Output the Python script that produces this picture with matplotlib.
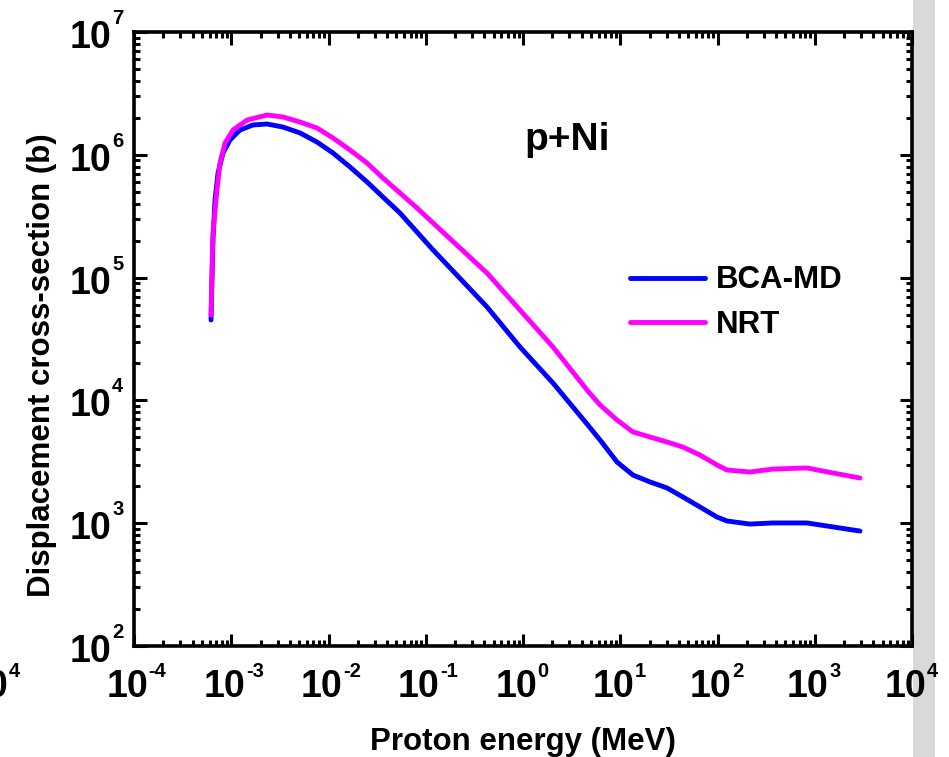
import numpy as np
import matplotlib
matplotlib.use("Agg")
import matplotlib.pyplot as plt
from matplotlib.ticker import LogLocator, NullFormatter
from matplotlib.patches import Rectangle

# values, in log10 units
log_e_bca = [-3.208, -3.198, -3.188, -3.167, -3.136, -3.085, -3.013, -2.910, -2.776, -2.632,
             -2.468, -2.293, -2.118, -1.954, -1.779, -1.604, -1.440, -1.265, -1.090, -0.925,
             -0.720, -0.370, -0.031, 0.308, 0.658, 0.792, 0.967, 1.131, 1.306, 1.481,
             1.645, 1.820, 1.995, 2.098, 2.334, 2.571, 2.920, 3.126, 3.465]
log_s_bca = [4.655, 4.980, 5.306, 5.632, 5.852, 6.015, 6.121, 6.202, 6.243, 6.251,
             6.226, 6.178, 6.104, 6.015, 5.901, 5.779, 5.656, 5.526, 5.371, 5.225,
             5.054, 4.761, 4.435, 4.142, 3.808, 3.678, 3.498, 3.392, 3.336, 3.287,
             3.213, 3.132, 3.050, 3.018, 2.993, 3.002, 3.002, 2.977, 2.936]

log_e_nrt = [-3.208, -3.198, -3.188, -3.147, -3.116, -3.064, -2.982, -2.838, -2.632, -2.468,
             -2.293, -2.118, -1.954, -1.779, -1.604, -1.440, -1.265, -1.090, -0.925, -0.720,
             -0.370, -0.031, 0.308, 0.658, 0.792, 0.967, 1.131, 1.306, 1.481, 1.645,
             1.820, 1.995, 2.098, 2.334, 2.571, 2.920, 3.188, 3.465]
log_s_nrt = [4.695, 5.062, 5.363, 5.713, 5.933, 6.096, 6.202, 6.283, 6.324, 6.308,
             6.267, 6.218, 6.137, 6.039, 5.933, 5.811, 5.689, 5.567, 5.445, 5.294,
             5.037, 4.736, 4.435, 4.085, 3.963, 3.840, 3.743, 3.702, 3.661, 3.620,
             3.555, 3.474, 3.433, 3.417, 3.441, 3.450, 3.409, 3.368]

x_exponents = [-4, -3, -2, -1, 0, 1, 2, 3, 4]
y_exponents = [2, 3, 4, 5, 6, 7]

plt.rcParams["font.family"] = ["Liberation Sans", "DejaVu Sans"]
plt.rcParams["font.weight"] = "bold"
plt.rcParams["axes.labelweight"] = "bold"

fig = plt.figure(figsize=(9.49, 7.57), dpi=100)
# grey strip at the right edge (neighbouring panel), kept under the tick labels
fig.patches.append(Rectangle((913 / 949, 0), 22 / 949, 1, transform=fig.transFigure,
                             facecolor="#d9d9d9", edgecolor="none", zorder=-1))
ax = fig.add_axes([134 / 949, 1 - 646 / 757, 778 / 949, 614 / 757])

ax.plot(np.power(10.0, log_e_bca), np.power(10.0, log_s_bca), color="#0000ff", lw=3.5,
        solid_capstyle="round", solid_joinstyle="round", label="BCA-MD")
ax.plot(np.power(10.0, log_e_nrt), np.power(10.0, log_s_nrt), color="#ff00ff", lw=3.5,
        solid_capstyle="round", solid_joinstyle="round", label="NRT")

ax.set_xscale("log")
ax.set_yscale("log")
ax.set_xlim(1e-4, 1e4)
ax.set_ylim(1e2, 1e7)
for axis in (ax.xaxis, ax.yaxis):
    axis.set_major_locator(LogLocator(base=10, numticks=20))
    axis.set_minor_locator(LogLocator(base=10, subs=np.arange(2, 10), numticks=100))
    axis.set_major_formatter(NullFormatter())
    axis.set_minor_formatter(NullFormatter())
ax.tick_params(which="both", direction="in", top=True, right=True, width=2.2)
ax.tick_params(which="major", length=9)
ax.tick_params(which="minor", length=4.5)
for s in ax.spines.values():
    s.set_linewidth(2.6)

# tick labels drawn as "10" plus a small exponent
for e in x_exponents:
    ax.annotate("10", xy=(10.0 ** e, 0), xycoords=("data", "axes fraction"),
                xytext=(10, -36.7), textcoords="offset points", ha="right", va="baseline",
                fontsize=27, annotation_clip=False)
    ax.annotate(str(e), xy=(10.0 ** e, 0), xycoords=("data", "axes fraction"),
                xytext=(10.5, -22.3), textcoords="offset points", ha="left", va="baseline",
                fontsize=14.5, annotation_clip=False)
for e in y_exponents:
    ax.annotate("10", xy=(0, 10.0 ** e), xycoords=("axes fraction", "data"),
                xytext=(-16.6, -11.5), textcoords="offset points", ha="right", va="baseline",
                fontsize=27, annotation_clip=False)
    ax.annotate(str(e), xy=(0, 10.0 ** e), xycoords=("axes fraction", "data"),
                xytext=(-15.8, 5.8), textcoords="offset points", ha="left", va="baseline",
                fontsize=14.5, annotation_clip=False)

# cut-off label of the neighbouring panel
fig.text(8 / 949, 1 - 697 / 757, "10", ha="right", va="baseline", fontsize=27)
fig.text(9 / 949, 1 - 677 / 757, "4", ha="left", va="baseline", fontsize=14.5)

ax.text(0.557, 0.824, "p+Ni", transform=ax.transAxes, ha="center", va="center", fontsize=28)

ax.set_xlabel("Proton energy (MeV)", fontsize=22.5)
ax.xaxis.set_label_coords(0.5, -0.132)
ax.set_ylabel("Displacement cross-section (b)", fontsize=22.5)
ax.yaxis.set_label_coords(-0.099, 0.4577)

ax.legend(loc="center left", bbox_to_anchor=(0.6375, 0.5594), frameon=False, fontsize=22.5,
          handlelength=2.4, handletextpad=0.35, labelspacing=0.45, borderpad=0, borderaxespad=0)

fig.savefig("out.png", dpi=100)
